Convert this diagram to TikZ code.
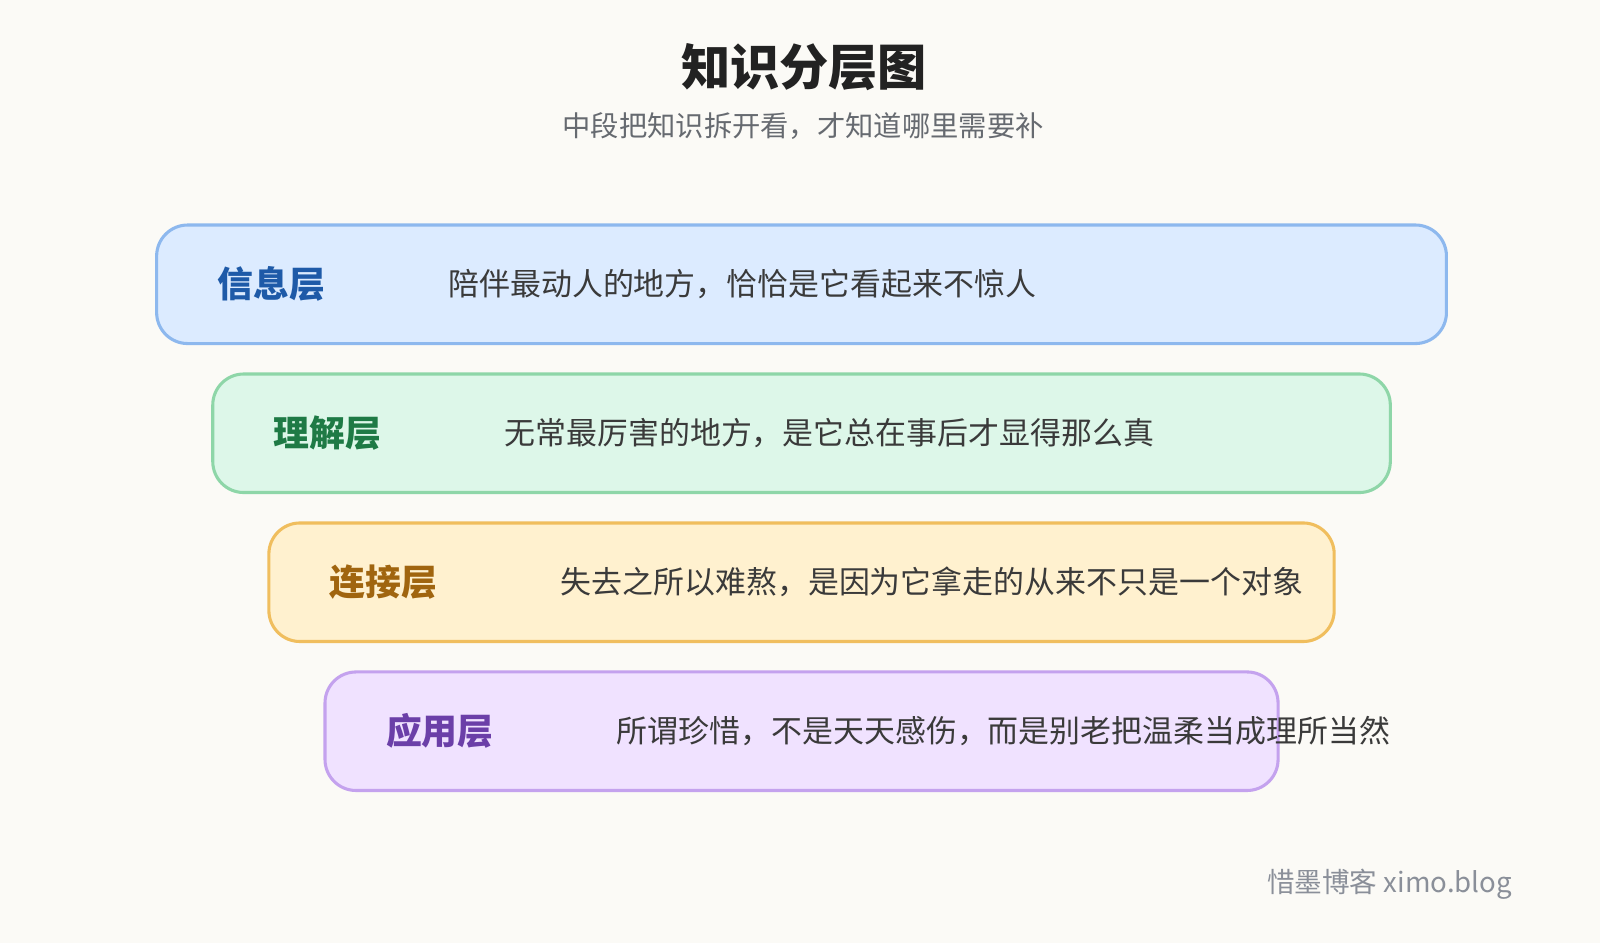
\documentclass[tikz,border=0pt]{standalone}
\usepackage{fontspec}
\setmainfont{Noto Sans CJK SC}
\definecolor{bgcol}{HTML}{FBFAF6}
\definecolor{titlecol}{HTML}{222222}
\definecolor{subcol}{HTML}{666A70}
\definecolor{textcol}{HTML}{3A3A3A}
\definecolor{markcol}{HTML}{8A8F99}
\definecolor{fillA}{HTML}{DCEBFF}\definecolor{drawA}{HTML}{8DB8EE}\definecolor{labA}{HTML}{1E5AA8}
\definecolor{fillB}{HTML}{DDF7E9}\definecolor{drawB}{HTML}{8ED6A8}\definecolor{labB}{HTML}{1E7A45}
\definecolor{fillC}{HTML}{FFF1CF}\definecolor{drawC}{HTML}{F0BE5E}\definecolor{labC}{HTML}{A0650F}
\definecolor{fillD}{HTML}{F0E2FF}\definecolor{drawD}{HTML}{C4A2EE}\definecolor{labD}{HTML}{6B3FA8}
\tikzset{
  layerbox/.style={draw, line width=1.75pt, rounded corners=0.62cm, minimum height=2.37cm, inner sep=0pt, anchor=north west},
  layerlab/.style={anchor=west, font=\fontsize{20.4}{22}\selectfont\bfseries, inner sep=0pt},
  layertext/.style={anchor=west, font=\fontsize{17.6}{20}\selectfont, text=textcol, inner sep=0pt}
}
\begin{document}
\begin{tikzpicture}[x=0.0204cm,y=-0.0204cm]
  \fill[bgcol] (0,0) rectangle (1568,924);
  \useasboundingbox (0,0) rectangle (1568,924);
  \node (title) at (788,66) {\fontsize{28}{31}\selectfont\bfseries\color{titlecol}知识分层图};
  \node (subtitle) at (787,124) {\fontsize{16.1}{18}\selectfont\color{subcol}中段把知识拆开看，才知道哪里需要补};
  \foreach \i/\x/\y/\w/\c/\lab/\txt in {
      a/152/219/1264/A/信息层/陪伴最动人的地方，恰恰是它看起来不惊人,
      b/207/365/1154/B/理解层/无常最厉害的地方，是它总在事后才显得那么真,
      c/262/511/1044/C/连接层/失去之所以难熬，是因为它拿走的从来不只是一个对象,
      d/317/657/934/D/应用层/所谓珍惜，不是天天感伤，而是别老把温柔当成理所当然} {
    \node[layerbox, fill=fill\c, draw=draw\c, minimum width=\w*0.0204cm] (box\i) at (\x,\y) {};
    \node[layerlab, text=lab\c] (lab\i) at ([xshift=1.245cm]box\i.west) {\lab};
    \node[layertext] (txt\i) at ([xshift=5.855cm]box\i.west) {\txt};
  }
  \node[anchor=east, inner sep=0pt, font=\fontsize{15.7}{18}\selectfont, text=markcol] (mark) at (1482,867) {惜墨博客 ximo.blog};
\end{tikzpicture}
\end{document}
